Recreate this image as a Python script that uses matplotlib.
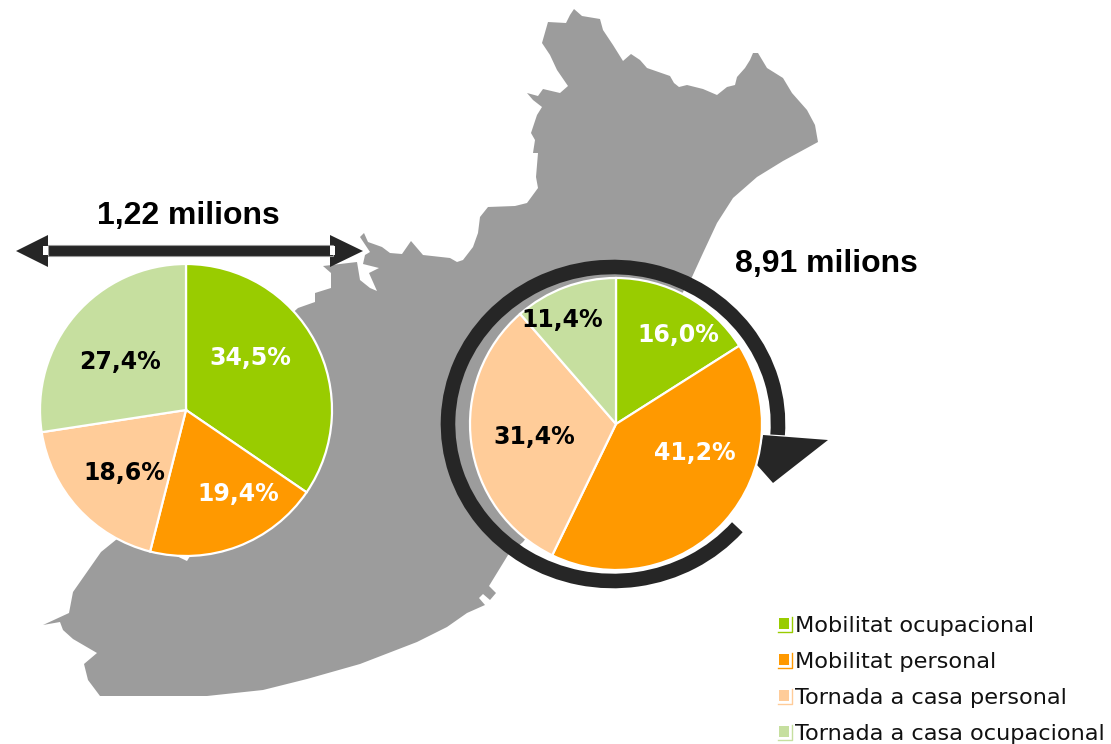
import matplotlib
matplotlib.use('Agg')
import matplotlib.pyplot as plt
from matplotlib.patches import Arc, Polygon, Rectangle

# Values for the two pies
categories = ['Mobilitat ocupacional', 'Mobilitat personal',
              'Tornada a casa personal', 'Tornada a casa ocupacional']
colors = ['#99CC00', '#FF9900', '#FFCC99', '#C6DF9F']
values_left = [34.5, 19.4, 18.6, 27.4]
values_right = [16.0, 41.2, 31.4, 11.4]
title_left = '1,22 milions'
title_right = '8,91 milions'

# Map shape, in pixels
map_outline = [
    (574, 9), (582, 16), (600, 19), (603, 30), (613, 45), (623, 61), (631, 54),
    (640, 60), (647, 68), (670, 76), (674, 83), (679, 87), (687, 85), (703, 89),
    (717, 95), (727, 87), (735, 85), (737, 77), (745, 68), (750, 60), (753, 53),
    (758, 53), (767, 68), (783, 78), (792, 93), (807, 110), (815, 125), (818, 142),
    (783, 161), (757, 177), (733, 198), (717, 223), (703, 253), (692, 277),
    (683, 292), (616, 424), (523, 542), (508, 555), (489, 586), (496, 593),
    (490, 600), (483, 594), (479, 598), (485, 605), (467, 613), (447, 627),
    (417, 642), (360, 664), (307, 679), (263, 690), (207, 696), (100, 696),
    (88, 680), (84, 664), (97, 653), (73, 639), (63, 630), (60, 622), (43, 625),
    (69, 613), (73, 592), (101, 552), (117, 539), (186, 410), (298, 308),
    (315, 302), (315, 293), (331, 288), (331, 273), (323, 266), (357, 262),
    (360, 280), (370, 288), (377, 291), (369, 273), (379, 268), (363, 264),
    (365, 255), (370, 252), (360, 237), (364, 233), (368, 242), (382, 247),
    (390, 253), (402, 254), (411, 241), (423, 255), (450, 258), (457, 262),
    (463, 260), (473, 247), (478, 233), (480, 217), (488, 207), (515, 206),
    (527, 203), (538, 188), (536, 177), (538, 153), (533, 153), (535, 140),
    (531, 133), (537, 115), (542, 107), (533, 100), (527, 93), (538, 96),
    (543, 89), (560, 93), (568, 86), (557, 70), (550, 55), (542, 43), (548, 22),
    (566, 23), (570, 15),
]

fig = plt.figure(figsize=(11.11, 7.44), dpi=100)
ax = fig.add_axes([0, 0, 1, 1])
dark = '#262626'

# Map
ax.add_patch(Polygon(map_outline, closed=True, facecolor='#9C9C9C', edgecolor='none', zorder=1))
ax.add_patch(Polygon([(170, 553), (187, 561), (192, 553)], closed=True, facecolor='white',
                     edgecolor='none', zorder=1.5))

# Double arrow over the left pie
ax.add_patch(Polygon([(16, 251), (48, 235), (48, 267)], closed=True, facecolor=dark, edgecolor='none', zorder=3))
ax.add_patch(Polygon([(363, 251), (330, 235), (330, 267)], closed=True, facecolor=dark, edgecolor='none', zorder=3))
ax.add_patch(Rectangle((48, 245), 285, 11, facecolor=dark, edgecolor='#999999', linewidth=0.8, zorder=3))
ax.add_patch(Rectangle((43, 246), 5, 9, facecolor='white', edgecolor='none', zorder=4))
ax.add_patch(Rectangle((330, 246), 5, 9, facecolor='white', edgecolor='none', zorder=4))

# Circular arrow round the right pie
ax.add_patch(Arc((613, 424), 330, 314, theta1=39.7, theta2=363.8, color=dark, linewidth=10.5,
                 capstyle='butt', zorder=3))
ax.add_patch(Polygon([(763, 435), (828, 440), (773, 483), (757, 465)], closed=True,
                     facecolor=dark, edgecolor='none', zorder=3))

# Pies, clockwise from twelve o'clock (the y axis is inverted)
for vals, center in [(values_left, (186, 410)), (values_right, (616, 424))]:
    wedges, _ = ax.pie(vals, colors=colors, center=center, radius=146, startangle=-90,
                       counterclock=True, frame=True,
                       wedgeprops={'edgecolor': 'white', 'linewidth': 1.6})
    for w in wedges:
        w.set_zorder(5)

ax.set_xlim(0, 1111)
ax.set_ylim(744, 0)
ax.set_aspect('auto')
ax.axis('off')

# Percentage labels
left_pos = [(250, 358), (238, 494), (124, 473), (120, 362)]
right_pos = [(678, 335), (695, 453), (534, 437), (562, 320)]
label_colors = ['white', 'white', 'black', 'black']
for vals, positions in [(values_left, left_pos), (values_right, right_pos)]:
    for v, (x, y), c in zip(vals, positions, label_colors):
        ax.text(x, y, f'{v:.1f}%'.replace('.', ','), color=c, fontsize=17, fontweight='bold',
                family='DejaVu Sans', ha='center', va='center', zorder=6)

# Totals
ax.text(188, 216, title_left, fontsize=23, fontweight='bold', family='Liberation Sans',
        ha='center', va='center', zorder=6)
ax.text(826, 264, title_right, fontsize=23, fontweight='bold', family='Liberation Sans',
        ha='center', va='center', zorder=6)

# Legend
legend_y = [625, 661, 697, 733]
for name, col, y in zip(categories, colors, legend_y):
    ax.add_patch(Rectangle((779, y - 7), 10, 11, facecolor=col, edgecolor='none', zorder=6))
    ax.plot([778, 792, 792], [y + 7, y + 7, y - 8], color=col, linewidth=1, zorder=6)
    ax.text(795, y + 1.5, name, fontsize=16.1, family='DejaVu Sans', color='#111111',
            ha='left', va='center', zorder=6)

plt.savefig('out.png', dpi=100)
